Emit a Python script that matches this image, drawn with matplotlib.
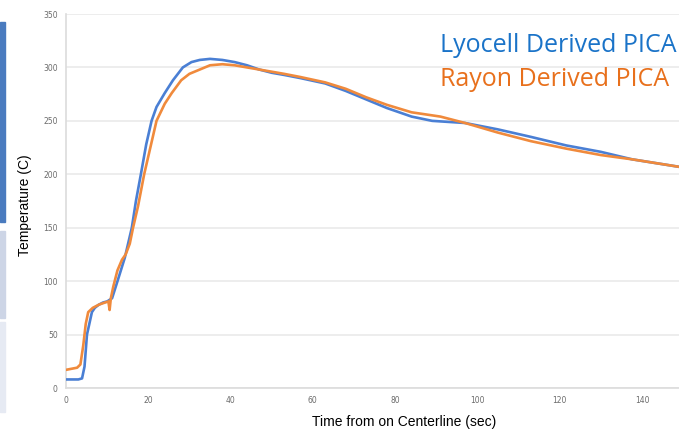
import matplotlib.pyplot as plt
from matplotlib.patches import Rectangle

# Lyocell derived PICA (blue)
lyocell_t = [0, 3, 3.9, 4.5, 5.1, 6.3, 7, 8, 9, 10, 11.2, 12.6, 14.3, 16, 17, 18.2,
             19.5, 20.8, 22, 24, 26, 28.4, 30.5, 32.5, 35, 38, 41, 44, 47, 50, 53,
             57, 63, 68, 73, 78, 84, 89, 91, 97, 105, 113, 121.6, 130, 137.6, 149]
lyocell_temp = [8, 8, 9, 20, 50, 71, 75, 78, 80, 81, 84, 101, 122, 150, 175, 200,
                228, 250, 263, 276, 288, 300, 305, 307, 308, 307, 305, 302, 298, 295, 293,
                290, 285, 278, 270, 262, 254, 250, 249.5, 248, 242, 235, 227, 221, 214, 207]

# Rayon derived PICA (orange)
rayon_t = [0, 2.7, 3.5, 4.2, 4.8, 5.4, 6.5, 8, 9.5, 10.3, 10.6, 10.9, 11.5, 12.5,
           13.6, 14.5, 15.5, 16.3, 17.5, 19, 20.5, 22, 24, 25.7, 28, 30, 32.5, 35,
           38, 41, 44, 47, 50, 53, 57, 63, 68, 73, 78, 84, 91, 97, 105, 113, 121.6,
           130, 137.6, 149]
rayon_temp = [17, 19, 22, 40, 60, 71, 75, 78, 80, 81, 73, 84, 95, 110,
              120, 125, 135, 150, 170, 200, 225, 250, 266, 276, 288, 294, 298, 302,
              303, 302, 300, 298, 296, 294, 291, 286, 280, 272, 265, 258, 254, 248, 239, 231, 224,
              218, 214, 207]

x_ticks = [0, 20, 40, 60, 80, 100, 120, 140]
y_ticks = [0, 50, 100, 150, 200, 250, 300, 350]

fig = plt.figure(figsize=(6.79, 4.32), dpi=100)
ax = fig.add_axes([66 / 679, 1 - 388 / 432, 1 - 66 / 679, (388 - 14) / 432])

# slide decoration bars on the left edge
for y0, y1, c in [(22, 222, '#4a7bbf'), (231, 318, '#cdd5e6'), (322, 412, '#e6eaf3')]:
    fig.patches.append(Rectangle((0, 1 - y1 / 432), 5 / 679, (y1 - y0) / 432,
                                 transform=fig.transFigure, color=c, zorder=0))

ax.plot(lyocell_t, lyocell_temp, color='#4a7fd4', lw=1.9, solid_joinstyle='round', zorder=3)
ax.plot(rayon_t, rayon_temp, color='#f08a3c', lw=1.9, solid_joinstyle='round', zorder=3)

ax.set_xlim(0, 149)
ax.set_ylim(0, 350)
ax.set_xticks(x_ticks)
ax.set_yticks(y_ticks)
ax.tick_params(length=0, labelsize=5.5, labelcolor='#6b6b6b', pad=6)
ax.grid(axis='y', color='#e8e8e8', lw=1.1)
ax.set_axisbelow(True)
for s in ['top', 'right']:
    ax.spines[s].set_visible(False)
for s in ['left', 'bottom']:
    ax.spines[s].set_color('#dcdcdc')
    ax.spines[s].set_linewidth(1.2)

ax.set_xlabel('Time from on Centerline (sec)', fontsize=10, family='Liberation Sans')
ax.set_ylabel('Temperature (C)', fontsize=10, family='Liberation Sans')
ax.xaxis.set_label_coords((404 - 66) / (679 - 66), -0.072)
ax.yaxis.set_label_coords(-(66 - 32) / (679 - 66), 0.49)

fig.text(440 / 679, 1 - 46 / 432, 'Lyocell Derived PICA', color='#1a73c8', fontsize=18,
         family='Open Sans', va='center', ha='left',
         bbox=dict(facecolor='white', edgecolor='none', pad=1))
fig.text(440 / 679, 1 - 79 / 432, 'Rayon Derived PICA', color='#e8701c', fontsize=18,
         family='Open Sans', va='center', ha='left')

fig.savefig('out.png', dpi=100)
